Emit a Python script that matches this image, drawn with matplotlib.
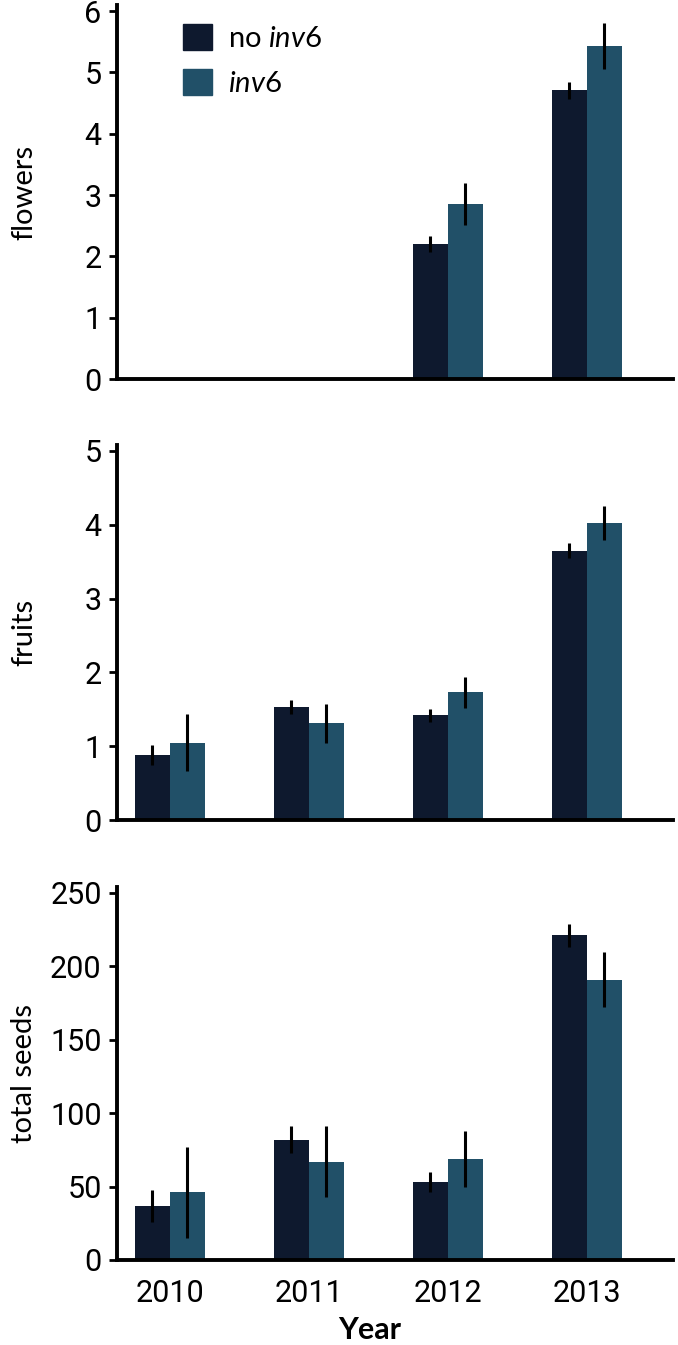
import matplotlib
matplotlib.use('Agg')
import matplotlib.pyplot as plt
from matplotlib.patches import Patch
import numpy as np

years = ['2010', '2011', '2012', '2013']
series = ['no $\\mathit{inv6}$', '$\\mathit{inv6}$']

# flowers (none recorded before 2012)
flowers_no = [0, 0, 2.20, 4.71]
flowers_no_err = [0, 0, 0.13, 0.14]
flowers_inv = [0, 0, 2.85, 5.43]
flowers_inv_err = [0, 0, 0.34, 0.38]

fruits_no = [0.88, 1.53, 1.42, 3.65]
fruits_no_err = [0.13, 0.10, 0.09, 0.10]
fruits_inv = [1.05, 1.31, 1.73, 4.02]
fruits_inv_err = [0.38, 0.26, 0.21, 0.23]

seeds_no = [37, 82, 53, 221]
seeds_no_err = [11, 9, 7, 8]
seeds_inv = [46, 67, 69, 191]
seeds_inv_err = [31, 24, 19, 19]

dark = '#0e192e'
teal = '#215068'

plt.rcParams['mathtext.fontset'] = 'custom'
plt.rcParams['mathtext.rm'] = 'Lato'
plt.rcParams['mathtext.it'] = 'Lato:italic'

tick_font = ['Roboto', 'DejaVu Sans']

fig = plt.figure(figsize=(6.78, 13.45), dpi=100)

panels = [
    (flowers_no, flowers_no_err, flowers_inv, flowers_inv_err, 'flowers',
     [0.7182, 0.9963], 6.1, [0, 1, 2, 3, 4, 5, 6]),
    (fruits_no, fruits_no_err, fruits_inv, fruits_inv_err, 'fruits',
     [0.3903, 0.6691], 5.08, [0, 1, 2, 3, 4, 5]),
    (seeds_no, seeds_no_err, seeds_inv, seeds_inv_err, 'total seeds',
     [0.0632, 0.3405], 254, [0, 50, 100, 150, 200, 250]),
]

x = np.arange(len(years))
w = 0.25
axes = []
for i, (v1, e1, v2, e2, lab, (b, t), top, ticks) in enumerate(panels):
    ax = fig.add_axes([0.1726, b, 0.9926 - 0.1726, t - b])
    axes.append(ax)
    v1 = np.array(v1, float)
    v2 = np.array(v2, float)
    e1 = np.array(e1, float)
    e2 = np.array(e2, float)
    m1 = v1 > 0
    m2 = v2 > 0
    ax.bar(x[m1] - w / 2, v1[m1], w, color=dark, zorder=2)
    ax.bar(x[m2] + w / 2, v2[m2], w, color=teal, zorder=2)
    ax.errorbar(x[m1] - w / 2, v1[m1], yerr=e1[m1], fmt='none',
                ecolor='black', elinewidth=2.2, capsize=0, zorder=3)
    ax.errorbar(x[m2] + w / 2, v2[m2], yerr=e2[m2], fmt='none',
                ecolor='black', elinewidth=2.2, capsize=0, zorder=3)
    ax.set_xlim(-0.38, 3.62)
    ax.set_ylim(0, top)
    ax.set_yticks(ticks)
    ax.set_yticklabels([str(v) for v in ticks], family=tick_font, fontsize=22)
    for s in ['top', 'right']:
        ax.spines[s].set_visible(False)
    for s in ['left', 'bottom']:
        ax.spines[s].set_linewidth(2.8)
    ax.tick_params(axis='y', length=6, width=2, pad=5)
    ax.tick_params(axis='x', length=0)
    ax.set_ylabel(lab, family='Lato', fontsize=21)
    ax.yaxis.set_label_coords(-0.144, 0.5)
    if i < 2:
        ax.set_xticks([])
    else:
        ax.set_xticks(x)
        ax.set_xticklabels(years, family=tick_font, fontsize=22)
        ax.tick_params(axis='x', pad=14)
        ax.set_xlabel('Year', family='Lato', fontweight='bold', fontsize=22)
        ax.xaxis.set_label_coords(0.455, -0.15)

handles = [Patch(color=dark), Patch(color=teal)]
axes[0].legend(handles, series, loc='upper left', bbox_to_anchor=(0.119, 0.95),
               frameon=False, handlelength=1.0, handleheight=1.0,
               handletextpad=0.55, labelspacing=0.6, borderpad=0,
               borderaxespad=0, prop={'family': 'Lato', 'size': 21})

fig.savefig('out.png', dpi=100)
